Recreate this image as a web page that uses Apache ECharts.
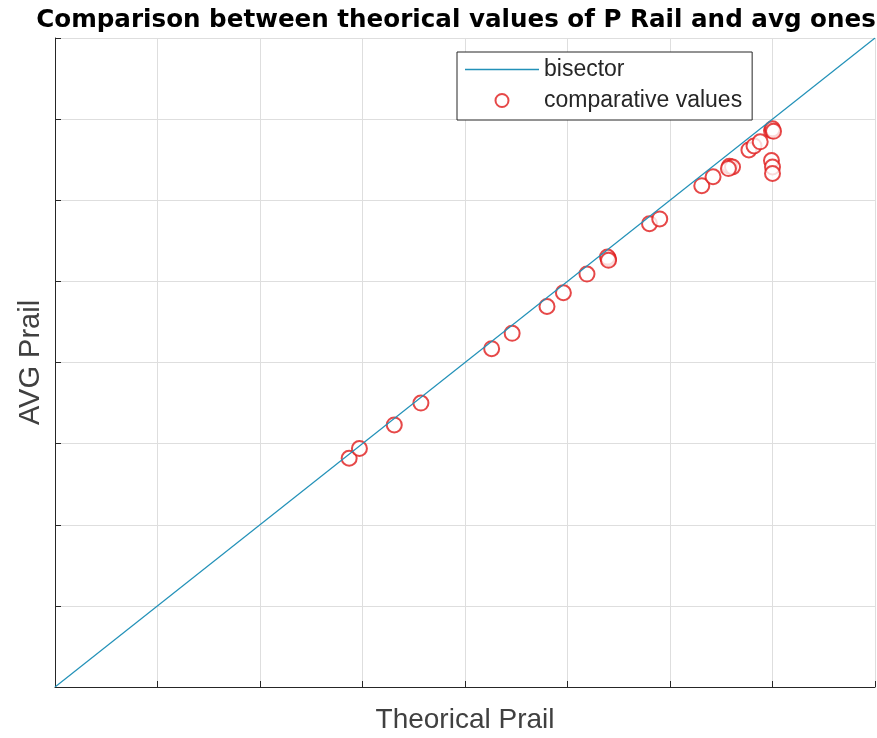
<!DOCTYPE html>
<html><head><meta charset="utf-8">
<script src="https://cdn.jsdelivr.net/npm/echarts@6/dist/echarts.min.js"></script>
<style>html,body{margin:0;padding:0;background:#fff}#c{width:877px;height:738px}</style>
</head><body><div id="c"></div>
<script>
const bisectorX = [0, 8];
const bisectorY = [0, 8];
const theoricalPrail = [2.87, 2.97, 3.31, 3.57, 4.26, 4.46, 4.80, 4.96, 5.19, 5.40, 5.39, 5.40, 5.80, 5.90, 6.31, 6.42, 6.58, 6.61, 6.57, 6.77, 6.82, 6.88, 6.99, 7.00, 7.01, 6.99, 7.00, 7.00];
const avgPrail = [2.82, 2.94, 3.23, 3.50, 4.17, 4.36, 4.69, 4.86, 5.09, 5.28, 5.30, 5.26, 5.71, 5.77, 6.18, 6.29, 6.42, 6.41, 6.39, 6.62, 6.67, 6.72, 6.86, 6.88, 6.85, 6.49, 6.41, 6.33];

const chart = echarts.init(document.getElementById('c'), null, {renderer: 'canvas'});
const font = 'Liberation Sans, Arial, sans-serif';
chart.setOption({
  animation: false,
  backgroundColor: '#ffffff',
  title: {
    text: 'Comparison between theorical values of P Rail and avg ones',
    left: 451, top: 3, textAlign: 'center',
    textStyle: {fontFamily: 'DejaVu Sans', fontSize: 24.6, fontWeight: 'bold', color: '#000'}
  },
  legend: {
    orient: 'vertical', left: 457, top: 52,
    itemWidth: 74, itemHeight: 13, itemGap: 8,
    padding: [6, 10, 8, 8],
    borderColor: '#262626', borderWidth: 1, backgroundColor: '#fff',
    textStyle: {fontFamily: font, fontSize: 23, color: '#262626'},
    data: [
      {name: 'bisector', icon: 'path://M0,0L74,0L74,1.3L0,1.3Z', itemStyle: {color: '#2291b8'}},
      {name: 'comparative values', icon: 'emptyCircle'}
    ]
  },
  grid: {left: 55, right: 2, top: 38, bottom: 51, containLabel: false, outerBoundsMode: 'none'},
  xAxis: {
    type: 'value', min: 0, max: 8, interval: 1,
    name: 'Theorical Prail', nameLocation: 'middle', nameGap: 19,
    nameTextStyle: {fontFamily: font, fontSize: 28, color: '#404040'},
    axisLabel: {show: false},
    axisLine: {show: true, onZero: false, lineStyle: {color: '#262626', width: 1}},
    axisTick: {show: true, inside: true, length: 6, lineStyle: {color: '#262626'}},
    splitLine: {show: true, lineStyle: {color: '#dedede', width: 1}}
  },
  yAxis: {
    type: 'value', min: 0, max: 8, interval: 1,
    name: 'AVG Prail', nameLocation: 'middle', nameGap: 10,
    nameTextStyle: {fontFamily: font, fontSize: 29, color: '#404040'},
    axisLabel: {show: false},
    axisLine: {show: true, onZero: false, lineStyle: {color: '#262626', width: 1}},
    axisTick: {show: true, inside: true, length: 6, lineStyle: {color: '#262626'}},
    splitLine: {show: true, lineStyle: {color: '#dedede', width: 1}}
  },
  series: [
    {
      name: 'bisector', type: 'line', symbol: 'none',
      data: bisectorX.map((v, i) => [v, bisectorY[i]]),
      lineStyle: {color: '#2291b8', width: 1.2},
      itemStyle: {color: '#2291b8'}
    },
    {
      name: 'comparative values', type: 'scatter', symbol: 'emptyCircle', symbolSize: 15,
      data: theoricalPrail.map((v, i) => [v, avgPrail[i]]),
      itemStyle: {color: '#e01a1a', borderColor: '#e01a1a', borderWidth: 1.2}
    }
  ]
});
</script></body></html>
